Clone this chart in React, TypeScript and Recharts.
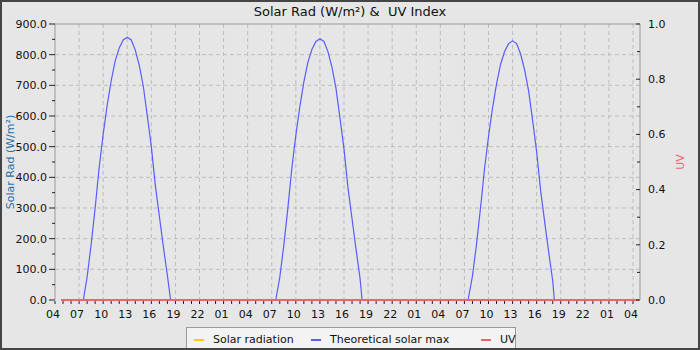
import React from 'react';
import {
  LineChart,
  Line,
  XAxis,
  YAxis,
  CartesianGrid,
  Legend,
  ReferenceLine,
  Label,
} from 'recharts';

const FONT = '"DejaVu Sans", sans-serif';

// time is counted in hours from midnight of the first day
const startHour = 4.75;
const endHour = 76.75;
const dayOffsets = [0, 24, 48];
const sunriseHours = [7.53, 7.5, 7.45];
const sunsetHours = [18.4, 18.25, 18.2];
const dayHours = [8, 8.5, 9, 9.5, 10, 10.5, 11, 11.5, 12, 12.5, 13, 13.5, 14, 14.5, 15, 15.5, 16, 16.5, 17, 17.5, 18];

const solarMaxDay1 = [75, 180, 300, 432, 540, 635, 715, 780, 822, 848, 857, 848, 815, 765, 697, 600, 500, 373, 273, 173, 80];
const solarMaxDay2 = [74, 178, 298, 429, 537, 631, 711, 775, 817, 843, 852, 843, 810, 759, 690, 593, 492, 365, 265, 165, 70];
const solarMaxDay3 = [78, 181, 299, 427, 533, 626, 705, 768, 810, 836, 845, 836, 802, 750, 681, 585, 482, 355, 254, 155, 62];

// flat at zero for the whole period
const solarRadiation = [0, 0];
const uvIndex = [0, 0];

const xTicks = Array.from({ length: 73 }, (_, i) => 4 + i);
const xGrid = xTicks.filter((h) => h > 4 && (h - 4) % 3 === 0);
const leftTicks = Array.from({ length: 19 }, (_, i) => i * 50);
const leftGrid = leftTicks.filter((v) => v > 0 && v < 900 && v % 100 === 0);
const rightTicks = [0, 0.1, 0.2, 0.3, 0.4, 0.5, 0.6, 0.7, 0.8, 0.9, 1.0];

const solarMaxData: { t: number; v: number }[] = [{ t: startHour, v: 0 }];
[solarMaxDay1, solarMaxDay2, solarMaxDay3].forEach((vals, d) => {
  const off = dayOffsets[d];
  solarMaxData.push({ t: off + sunriseHours[d], v: 0 });
  vals.forEach((v, i) => solarMaxData.push({ t: off + dayHours[i], v }));
  solarMaxData.push({ t: off + sunsetHours[d], v: 0 });
});
solarMaxData.push({ t: endHour, v: 0 });

const solarRadData = [startHour, endHour].map((t, i) => ({ t, v: solarRadiation[i] }));
const uvData = [startHour, endHour].map((t, i) => ({ t, v: uvIndex[i] }));

const legendItems = [
  { name: 'Solar radiation', color: '#ffcc00', left: 7 },
  { name: 'Theoretical solar max', color: '#5b5bff', left: 124 },
  { name: 'UV', color: '#ec646c', left: 294 },
];

const tickText = { fontFamily: FONT, fontSize: 11, fill: '#111' };

// tickSize is 0 on every axis, so the tick anchor sits exactly tickMargin away from the axis line
const LeftTick = ({ x, y, payload }: any) => {
  const major = payload.value % 100 === 0;
  return (
    <g>
      <line x1={x + (major ? 2 : 5)} x2={x + 8} y1={y} y2={y} stroke="#222" />
      {major && (
        <text x={x} y={y} dy="0.35em" textAnchor="end" {...tickText}>
          {payload.value.toFixed(1)}
        </text>
      )}
    </g>
  );
};

const RightTick = ({ x, y, payload }: any) => {
  const major = Math.round(payload.value * 10) % 2 === 0;
  return (
    <g>
      <line x1={x - 8 - (major ? 4 : 3)} x2={x - 8} y1={y} y2={y} stroke="#222" />
      {major && (
        <text x={x} y={y} dy="0.35em" textAnchor="start" {...tickText}>
          {payload.value.toFixed(1)}
        </text>
      )}
    </g>
  );
};

const BottomTick = ({ x, y, payload }: any) => {
  const h = payload.value;
  const major = (h - 4) % 3 === 0;
  return (
    <g>
      <line x1={x} x2={x} y1={y - 4} y2={y - 1} stroke="#222" />
      {major && (
        <text x={x - 2} y={y + 13} textAnchor="middle" {...tickText}>
          {String(h % 24).padStart(2, '0')}
        </text>
      )}
    </g>
  );
};

const AxisTitle = ({ viewBox, value, color, dx }: any) => {
  const cx = viewBox.x + dx;
  const cy = viewBox.y + viewBox.height / 2;
  return (
    <text
      x={cx}
      y={cy}
      transform={`rotate(-90 ${cx} ${cy})`}
      textAnchor="middle"
      dominantBaseline="central"
      fontFamily={FONT}
      fontSize={11}
      fill={color}
    >
      {value}
    </text>
  );
};

const LegendBox = () => (
  <div
    style={{
      position: 'relative',
      width: 330,
      height: 23,
      boxSizing: 'border-box',
      border: '1px solid #9a9a9a',
      background: '#f3f3f3',
      fontFamily: FONT,
      fontSize: 11,
      color: '#111',
    }}
  >
    {legendItems.map((item) => (
      <div
        key={item.name}
        style={{ position: 'absolute', left: item.left, top: 5, display: 'flex', alignItems: 'center', whiteSpace: 'nowrap' }}
      >
        <span style={{ display: 'inline-block', width: 10, height: 2, background: item.color, marginRight: 9 }} />
        <span>{item.name}</span>
      </div>
    ))}
  </div>
);

export default function App() {
  return (
    <div style={{ position: 'absolute', left: 0, top: 0, width: 700, height: 350, background: '#e6e6e6' }}>
      <div
        style={{
          position: 'absolute',
          top: 4,
          left: 0,
          width: 700,
          textAlign: 'center',
          fontFamily: FONT,
          fontSize: 13,
          lineHeight: '16px',
          whiteSpace: 'pre',
          color: '#111',
        }}
      >
        {'Solar Rad (W/m²) &  UV Index'}
      </div>
      <LineChart width={700} height={350} margin={{ top: 24, right: 5, bottom: 30, left: 5 }}>
        <CartesianGrid
          yAxisId="left"
          stroke="#bdbdbd"
          strokeDasharray="4 3"
          horizontalValues={leftGrid}
          verticalValues={xGrid}
        />
        <XAxis
          dataKey="t"
          type="number"
          domain={[4, 76.87]}
          ticks={xTicks}
          interval={0}
          height={20}
          tickSize={0}
          tickMargin={5}
          tickLine={false}
          axisLine={false}
          tick={<BottomTick />}
        />
        <YAxis
          yAxisId="left"
          domain={[0, 900]}
          ticks={leftTicks}
          interval={0}
          width={50}
          tickSize={0}
          tickMargin={8}
          tickLine={false}
          axisLine={{ stroke: '#999' }}
          tick={<LeftTick />}
        >
          <Label content={<AxisTitle value="Solar Rad (W/m²)" color="#2a6ea6" dx={5} />} />
        </YAxis>
        <YAxis
          yAxisId="right"
          orientation="right"
          domain={[0, 1]}
          ticks={rightTicks}
          interval={0}
          width={55}
          tickSize={0}
          tickMargin={8}
          tickLine={false}
          axisLine={{ stroke: '#999' }}
          tick={<RightTick />}
        >
          <Label content={<AxisTitle value="UV" color="#ec646c" dx={40} />} />
        </YAxis>
        <ReferenceLine yAxisId="left" y={900} stroke="#999" />
        <Legend
          layout="horizontal"
          verticalAlign="middle"
          align="center"
          content={<LegendBox />}
          wrapperStyle={{ left: 186, top: 327, width: 330, height: 23 }}
        />
        <Line
          yAxisId="left"
          data={solarRadData}
          dataKey="v"
          name="Solar radiation"
          stroke="#ffcc00"
          strokeWidth={2}
          dot={false}
          isAnimationActive={false}
        />
        <Line
          yAxisId="left"
          data={solarMaxData}
          dataKey="v"
          name="Theoretical solar max"
          stroke="#5b5bff"
          strokeWidth={1.2}
          dot={false}
          isAnimationActive={false}
        />
        <Line
          yAxisId="right"
          data={uvData}
          dataKey="v"
          name="UV"
          stroke="#ec646c"
          strokeWidth={2}
          dot={false}
          isAnimationActive={false}
        />
      </LineChart>
      <div
        style={{
          position: 'absolute',
          left: 0,
          top: 0,
          width: 700,
          height: 350,
          boxSizing: 'border-box',
          border: '2px solid #454545',
          pointerEvents: 'none',
        }}
      />
    </div>
  );
}
